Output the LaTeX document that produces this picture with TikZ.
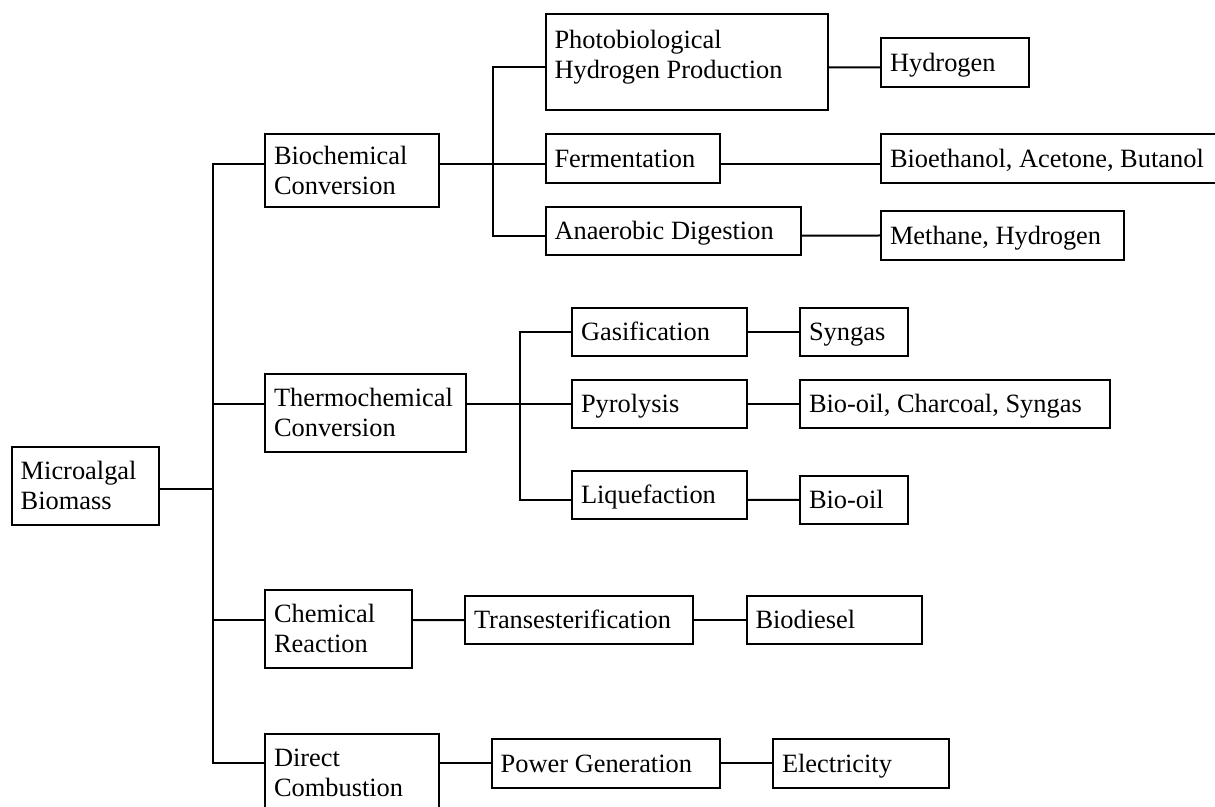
\documentclass[tikz,border=0pt]{standalone}
\usepackage{fontspec}
\setmainfont{Liberation Serif}

\tikzset{
  box/.style 2 args={draw, anchor=north west, align=flush left,
    font=\fontsize{13.2}{15}\selectfont,
    inner xsep=4.5pt, inner ysep=0pt,
    minimum width=#1*0.5pt, minimum height=#2*0.5pt,
    /utils/exec={\pgfmathsetlengthmacro\boxwd{#1*0.5pt-9pt}},
    text width/.expanded=\boxwd, text height=8.8pt, text depth=0pt},
  twolines/.style={text depth=15pt},
}

\begin{document}
\begin{tikzpicture}[x=0.5pt, y=-0.5pt, line width=1pt]
        \useasboundingbox (0,0) rectangle (1215,807);

        % routes
        \node[box={147.3}{78.3}, twolines] (micro) at (10.7,445.7) {Microalgal\\Biomass};
        \node[box={174}{72.7}, twolines] (bio) at (264,133.3) {Biochemical\\Conversion};
        \node[box={200.7}{78.3}, twolines] (thermo) at (264,372.7) {Thermochemical\\Conversion};
        \node[box={147}{78.3}, twolines] (chem) at (264,588.7) {Chemical\\Reaction};
        \node[box={174}{78.3}, twolines] (direct) at (264,732.7) {Direct\\Combustion};

        % processes
        \node[box={282.1}{96}, text depth=23pt] (photo) at (544.5,13.3) {Photobiological\\Hydrogen Production};
        \node[box={174.5}{48.4}] (ferm) at (544.5,133.3) {Fermentation};
        \node[box={255.5}{48.3}] (anaer) at (544.5,205.7) {Anaerobic Digestion};
        \node[box={175}{48.3}] (gasif) at (571,306.7) {Gasification};
        \node[box={175}{48}] (pyro) at (571,378.7) {Pyrolysis};
        \node[box={175}{48}] (liquef) at (571,470) {Liquefaction};
        \node[box={228}{48}] (trans) at (464,595) {Transesterification};
        \node[box={228.3}{48.3}] (power) at (490.7,738.3) {Power Generation};

        % products
        \node[box={148}{48.4}] (hydro) at (880,37.3) {Hydrogen};
        \node[box={340}{48.4}] (bioeth) at (880,133.3) {Bioethanol, Acetone, Butanol};
        \node[box={242.7}{48.4}] (methane) at (880,210.3) {Methane, Hydrogen};
        \node[box={108}{48.3}] (syngas) at (799,306.7) {Syngas};
        \node[box={310}{48}] (bochar) at (799,378.7) {Bio-oil, Charcoal, Syngas};
        \node[box={108}{48.3}] (biooil) at (799,474.7) {Bio-oil};
        \node[box={175.5}{48}] (biodsl) at (745.5,595) {Biodiesel};
        \node[box={176}{48.3}] (elec) at (772,738.3) {Electricity};

        % trunk
        \coordinate (root) at ([yshift=-1.4pt]micro.east);
        \coordinate (trunk) at ([xshift=26.4pt]root);
        \coordinate (in-bio) at ([yshift=3.5pt]bio.west);
        \coordinate (in-thermo) at ([yshift=4.6pt]thermo.west);
        \coordinate (in-chem) at ([yshift=4.4pt]chem.west);
        \coordinate (in-direct) at ([yshift=4.7pt]direct.west);
        \draw (root) -- (trunk);
        \draw (in-bio) -| (trunk |- in-direct) -- (in-direct);
        \draw (in-thermo) -- (in-thermo -| trunk);
        \draw (in-chem) -- (in-chem -| trunk);

        % biochemical fork
        \coordinate (out-bio) at ([yshift=3.5pt]bio.east);
        \coordinate (bio-fork) at ([xshift=26.35pt]out-bio);
        \coordinate (in-photo) at ([yshift=-2.5pt]photo.west);
        \coordinate (in-anaer) at ([yshift=-2.4pt]anaer.west);
        \draw (out-bio) -- (out-bio -| ferm.west);
        \draw (in-photo) -| (bio-fork |- in-anaer) -- (in-anaer);

        % thermochemical fork
        \coordinate (out-thermo) at ([yshift=4.6pt]thermo.east);
        \coordinate (thermo-fork) at ([xshift=26.65pt]out-thermo);
        \coordinate (in-liquef) at ([yshift=-2.5pt]liquef.west);
        \draw (out-thermo) -- (out-thermo -| pyro.west);
        \draw (gasif.west) -| (thermo-fork |- in-liquef) -- (in-liquef);

        \path ([yshift=-2.5pt]photo.east) edge ([yshift=-2.5pt]hydro.west);
        \path ([yshift=-2.6pt]ferm.east) edge ([yshift=-2.6pt]bioeth.west);
        \path ([yshift=-2.4pt]anaer.east) edge (methane.west);
        \path (gasif) edge (syngas);
        \path (pyro) edge (bochar);
        \path ([yshift=-2.5pt]liquef.east) edge (biooil.west);
        \path ([yshift=4.4pt]chem.east) edge (trans.west);
        \path (trans) edge (biodsl);
        \path ([yshift=4.7pt]direct.east) edge (power.west);
        \path (power) edge (elec);
\end{tikzpicture}
\end{document}
